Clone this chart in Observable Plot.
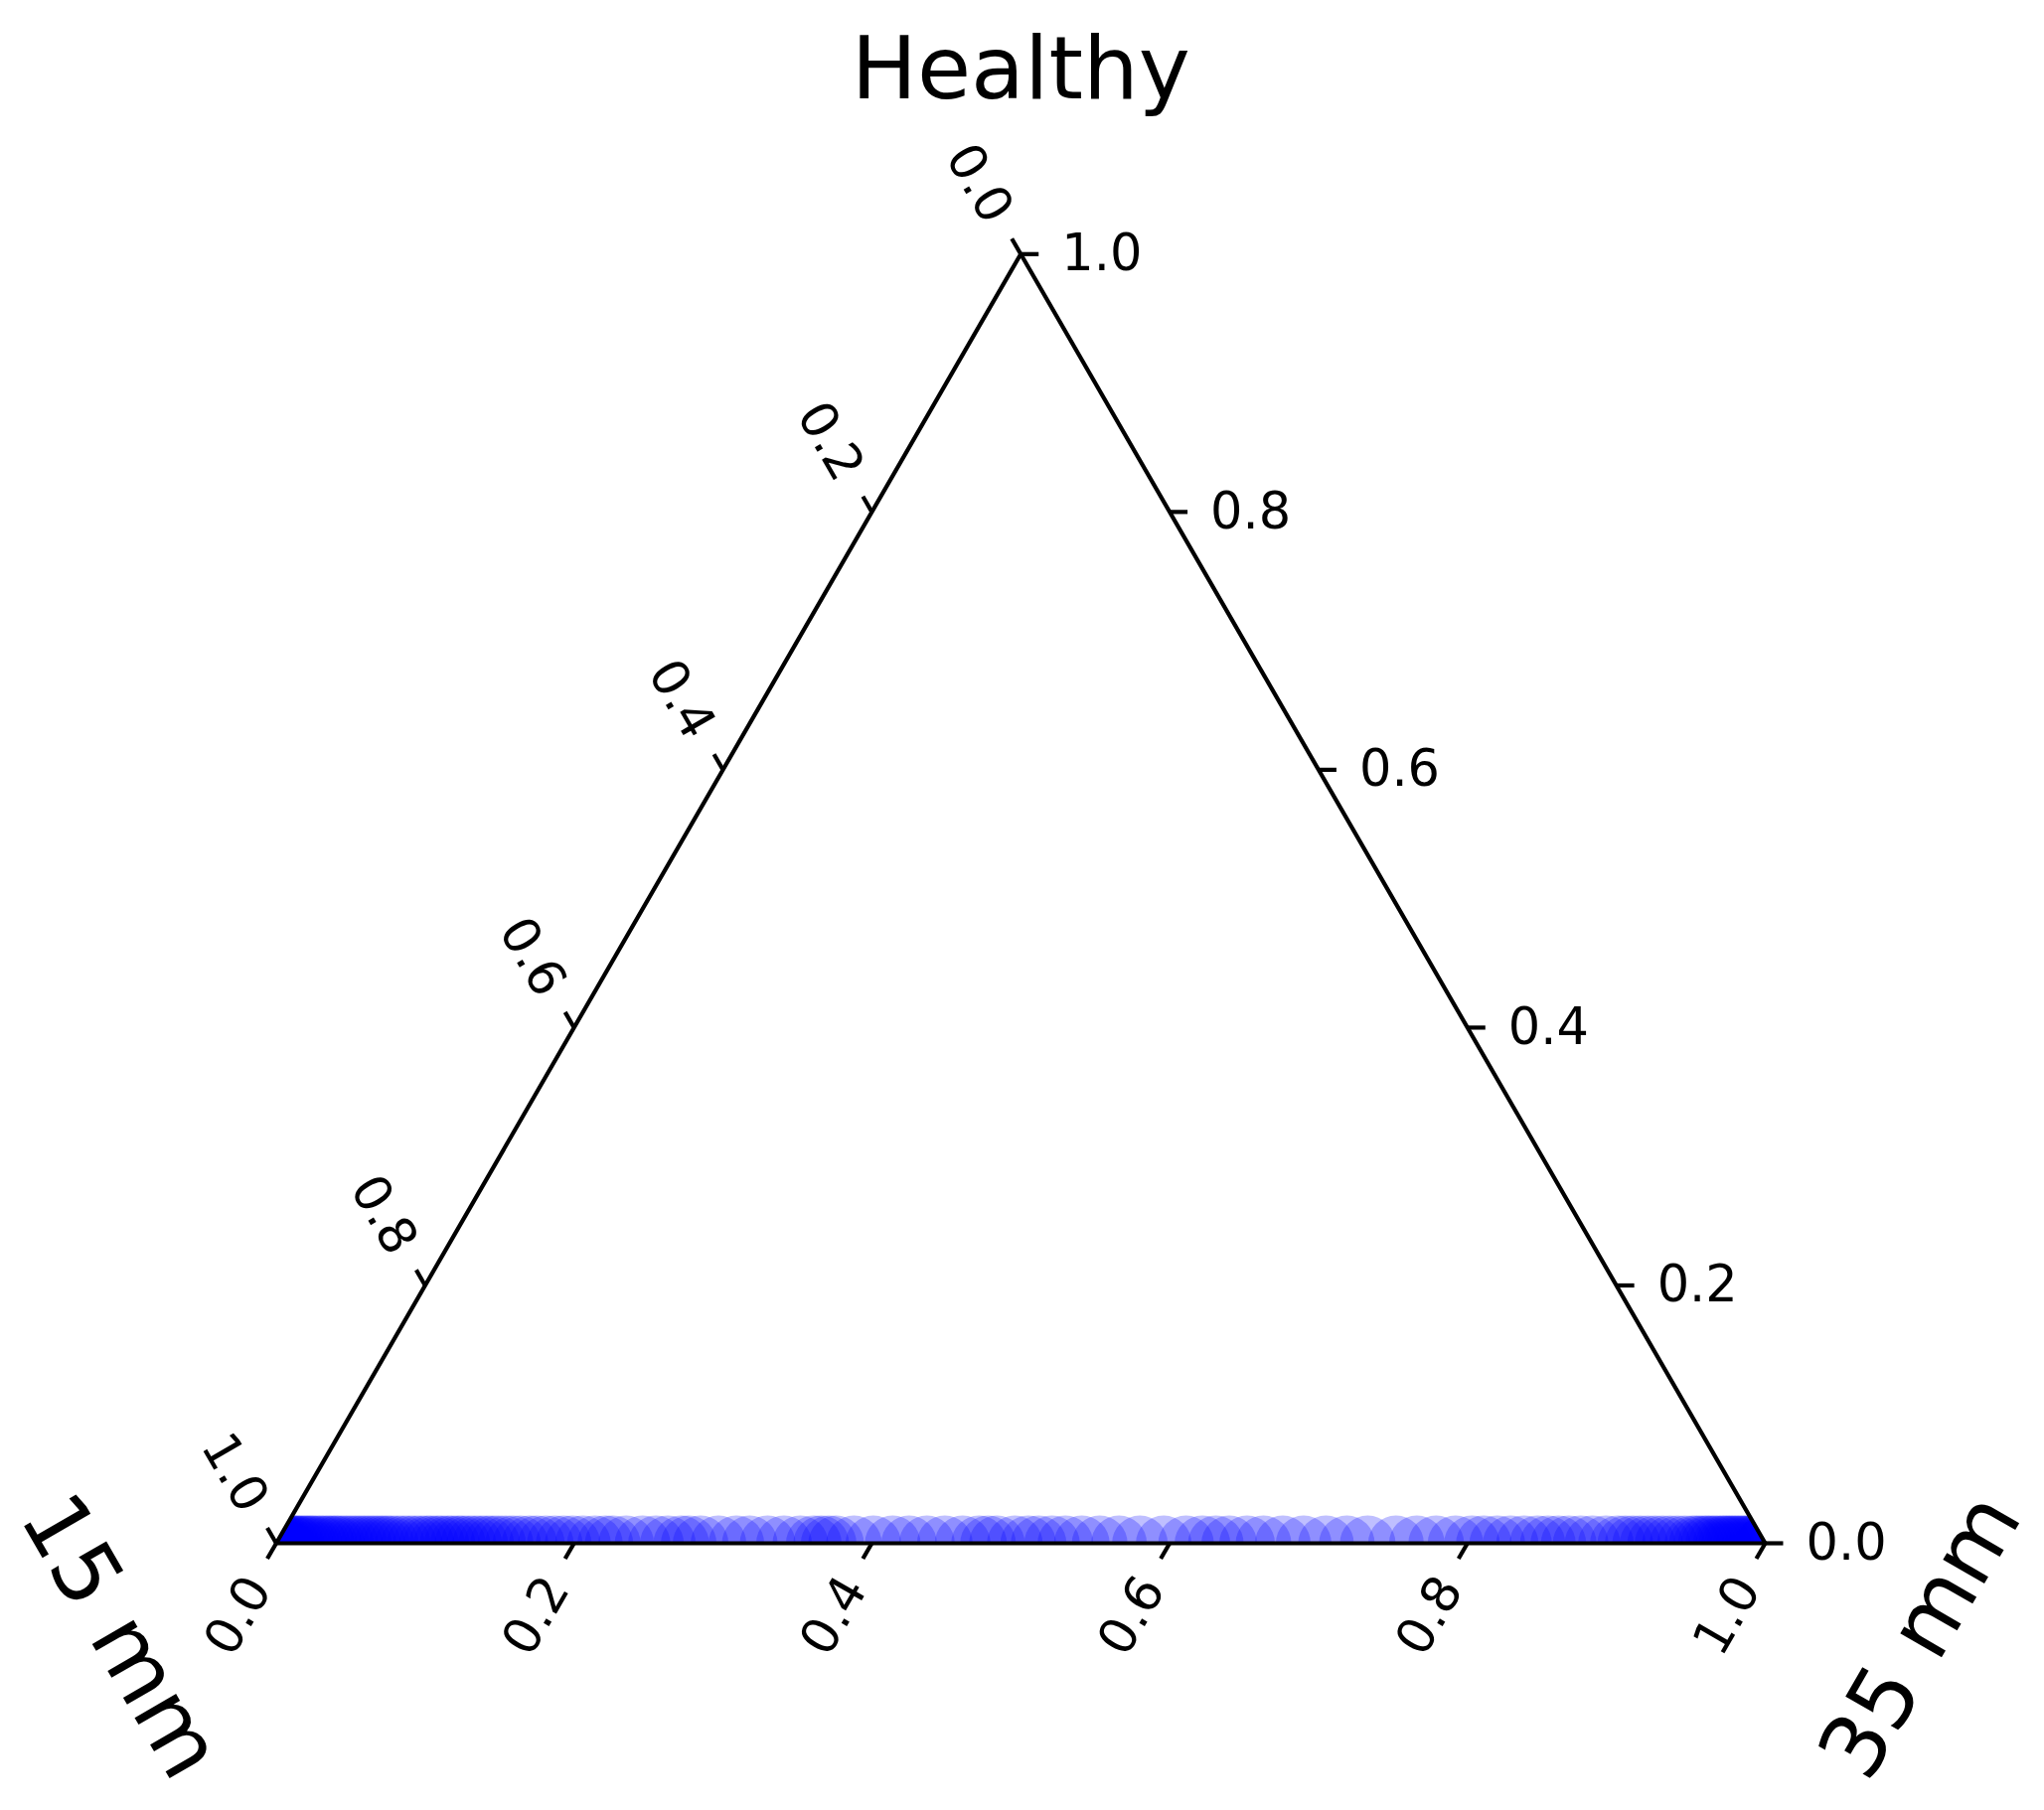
<!DOCTYPE html>
<html>
<head>
<meta charset="utf-8">
<script src="https://cdn.jsdelivr.net/npm/d3@7"></script>
<script src="https://cdn.jsdelivr.net/npm/@observablehq/plot@0.6"></script>
<style>
  html, body { margin: 0; padding: 0; background: #ffffff; }
  #chart svg { display: block; }
</style>
</head>
<body>
<div id="chart"></div>
<script>
// ---------- data ----------
const cornerNames = ["Healthy", "15 mm", "35 mm"];           // top, left, right corners
const tickValues  = [0, 0.2, 0.4, 0.6, 0.8, 1.0];
const tickLabels  = ["0.0", "0.2", "0.4", "0.6", "0.8", "1.0"];

// share of "35 mm" for every sample (all samples sit on the Healthy = 0 edge)
const share35 = [
  0.000, 0.000, 0.001, 0.001, 0.002, 0.003, 0.004, 0.005, 0.006, 0.007,
  0.008, 0.010, 0.011, 0.013, 0.014, 0.016, 0.018, 0.020, 0.022, 0.024,
  0.026, 0.029, 0.031, 0.034, 0.036, 0.039, 0.041, 0.044, 0.047, 0.050,
  0.053, 0.056, 0.059, 0.062, 0.065, 0.068, 0.071, 0.074, 0.077, 0.081,
  0.085, 0.089, 0.093, 0.097,
  0.101, 0.104, 0.108, 0.111, 0.115, 0.118, 0.122, 0.125, 0.129, 0.133,
  0.137, 0.141, 0.145, 0.149,
  0.154, 0.159, 0.164, 0.170, 0.175, 0.181, 0.187, 0.193, 0.199,
  0.206, 0.214, 0.221, 0.226, 0.235, 0.246, 0.255, 0.263, 0.272, 0.277,
  0.285, 0.297, 0.309, 0.318, 0.330, 0.341, 0.352, 0.361, 0.366, 0.371,
  0.376, 0.388, 0.401, 0.414, 0.425, 0.437, 0.449, 0.461, 0.472, 0.478,
  0.484, 0.496, 0.505, 0.512, 0.521, 0.530, 0.541, 0.553, 0.566, 0.580,
  0.596, 0.611, 0.622, 0.631, 0.640, 0.652, 0.663, 0.676, 0.690, 0.705,
  0.719, 0.733, 0.752, 0.766, 0.779, 0.792, 0.803, 0.811, 0.820, 0.829, 0.838,
  0.847, 0.854, 0.861, 0.868, 0.876, 0.884, 0.893,
  0.901, 0.906, 0.911, 0.916, 0.921, 0.926, 0.931, 0.936, 0.941, 0.946,
  0.951, 0.954, 0.957, 0.960, 0.962, 0.965, 0.967, 0.970, 0.972, 0.974,
  0.976, 0.978, 0.980, 0.982, 0.984, 0.986, 0.988, 0.990, 0.992, 0.994,
  0.996, 0.998, 0.999, 1.000, 1.000
];
const healthyShare = 0; // Healthy share of every sample

// ---------- ternary -> cartesian (equilateral) ----------
const tern = (h, m15, m35) => ({ X: m35 + h / 2, Y: h });
const points = share35.map(s => tern(healthyShare, 1 - s - healthyShare, s));

const corners = [
  tern(0, 1, 0),   // 15 mm corner (bottom left)
  tern(0, 0, 1),   // 35 mm corner (bottom right)
  tern(1, 0, 0),   // Healthy corner (top)
];
const frame = [...corners, corners[0]];

const TL = 0.012; // tick length in ternary units
const rightTicks  = tickValues.map((v, i) => { const p = tern(v, 0, 1 - v); return { ...p, X2: p.X + TL, Y2: p.Y, label: tickLabels[i] }; });
const leftTicks   = tickValues.map((v, i) => { const p = tern(1 - v, v, 0); return { ...p, X2: p.X - TL / 2, Y2: p.Y + TL, label: tickLabels[i] }; });
const bottomTicks = tickValues.map((v, i) => { const p = tern(0, 1 - v, v); return { ...p, X2: p.X - TL / 2, Y2: p.Y - TL, label: tickLabels[i] }; });

const font = "DejaVu Sans";
const tickFont = 51;
const titleFont = 88;

const plot = Plot.plot({
  width: 2057,
  height: 1822,
  margin: 0,
  x: { domain: [0, 1], range: [277.5, 1776], axis: null },
  y: { domain: [0, 1], range: [1553, 255.3], axis: null },
  style: { fontFamily: font, background: "#ffffff", color: "#000000" },
  marks: [
    Plot.dot(points, { x: "X", y: "Y", r: 28, fill: "#0000ff", fillOpacity: 0.25, stroke: "none" }),
    Plot.line(frame, { x: "X", y: "Y", stroke: "#000000", strokeWidth: 4.2, strokeLinejoin: "miter", strokeLinecap: "butt" }),
    Plot.link([...rightTicks, ...leftTicks, ...bottomTicks], { x1: "X", y1: "Y", x2: "X2", y2: "Y2", stroke: "#000000", strokeWidth: 4.2, strokeLinecap: "butt" }),
    Plot.text(rightTicks,  { x: "X", y: "Y", text: "label", dx: 41, textAnchor: "start", lineAnchor: "middle", fontSize: tickFont, fill: "#000000" }),
    Plot.text(leftTicks,   { x: "X", y: "Y", text: "label", dx: -42, dy: -71, rotate: 60, textAnchor: "middle", lineAnchor: "middle", fontSize: tickFont, fill: "#000000" }),
    Plot.text(bottomTicks, { x: "X", y: "Y", text: "label", dx: -38, dy: 73, rotate: -60, textAnchor: "middle", lineAnchor: "middle", fontSize: tickFont, fill: "#000000" }),
    Plot.text([{ ...corners[2], name: cornerNames[0] }], { x: "X", y: "Y", text: "name", dy: -185, textAnchor: "middle", lineAnchor: "middle", fontSize: titleFont, fill: "#000000" }),
    Plot.text([{ ...corners[0], name: cornerNames[1] }], { x: "X", y: "Y", text: "name", dx: -157, dy: 94, rotate: 60, textAnchor: "middle", lineAnchor: "middle", fontSize: titleFont, fill: "#000000" }),
    Plot.text([{ ...corners[1], name: cornerNames[2] }], { x: "X", y: "Y", text: "name", dx: 157, dy: 94, rotate: -60, textAnchor: "middle", lineAnchor: "middle", fontSize: titleFont, fill: "#000000" })
  ]
});

// clip the sample markers to the triangle (as the ternary axes patch does)
const sx = plot.scale("x"), sy = plot.scale("y");
const ns = "http://www.w3.org/2000/svg";
const defs = document.createElementNS(ns, "defs");
const cp = document.createElementNS(ns, "clipPath");
cp.setAttribute("id", "tri-clip");
const poly = document.createElementNS(ns, "polygon");
poly.setAttribute("points", corners.map(c => `${sx.apply(c.X)},${sy.apply(c.Y)}`).join(" "));
cp.appendChild(poly);
defs.appendChild(cp);
plot.insertBefore(defs, plot.firstChild);
const dotGroup = plot.querySelector('g[aria-label="dot"]');
if (dotGroup) dotGroup.setAttribute("clip-path", "url(#tri-clip)");

document.getElementById("chart").appendChild(plot);
</script>
</body>
</html>
